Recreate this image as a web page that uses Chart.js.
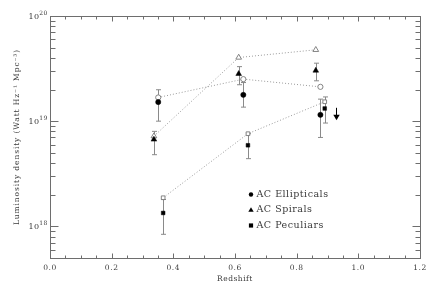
<!DOCTYPE html>
<html>
<head>
<meta charset="utf-8">
<script src="https://cdn.jsdelivr.net/npm/chart.js@4/dist/chart.umd.min.js"></script>
<style>
  html, body { margin: 0; padding: 0; background: #fff; }
  #wrap { width: 436px; height: 291px; }
</style>
</head>
<body>
<div id="wrap"><canvas id="myChart"></canvas></div>
<script>
/*global Chart*/

// AC Ellipticals
var zEll = [0.351, 0.627, 0.877];
var lumEll = [1.52e19, 1.78e19, 1.15e19];
var lumEllLo = [1.0e19, 1.36e19, 7.0e18];
var lumEllHi = [1.99e19, 2.33e19, 1.62e19];

// AC Spirals
var zSpi = [0.337, 0.612, 0.862];
var lumSpi = [6.7e18, 2.82e19, 3.03e19];
var lumSpiLo = [4.8e18, 2.22e19, 2.42e19];
var lumSpiHi = [8.0e18, 3.3e19, 3.56e19];

// AC Peculiars
var zPec = [0.367, 0.642, 0.891];
var lumPec = [1.34e18, 5.9e18, 1.32e19];
var lumPecLo = [8.4e17, 4.4e18, 9.6e18];
var lumPecHi = [1.8e18, 7.6e18, 1.7e19];

// open symbols joined by dotted lines
var lumEllOpen = [1.68e19, 2.51e19, 2.12e19];
var lumSpiOpen = [7.2e18, 4.03e19, 4.77e19];
var lumPecOpen = [1.87e18, 7.6e18, 1.53e19];

// upper limit arrow
var limitZ = [0.927];
var limitLum = [1.34e19];

var legendLabels = ["AC Ellipticals", "AC Spirals", "AC Peculiars"];
var legendStyles = ["circle", "triangle", "rect"];
var xTicks = [0.0, 0.2, 0.4, 0.6, 0.8, 1.0, 1.2];
var yTicks = [1e18, 1e19, 1e20];

function pts(xs, ys){
    return xs.map(function(x, i){ return {x: x, y: ys[i]}; });
}

var serif = "'DejaVu Serif', serif";
var ink = "#3a3a3a";

var openSet = function(xs, ys, style){
    return {
        data: pts(xs, ys),
        showLine: true,
        borderColor: "#9a9a9a",
        borderWidth: 1,
        borderDash: [1, 2],
        pointStyle: style,
        pointRadius: style === "triangle" ? 3.3 : 2.6,
        pointBackgroundColor: "#fff",
        pointBorderColor: "#777",
        pointBorderWidth: 0.9,
        order: 2
    };
};
var filledSet = function(xs, ys, style){
    return {
        data: pts(xs, ys),
        showLine: false,
        pointStyle: style,
        pointRadius: style === "triangle" ? 3.3 : 2.6,
        pointBackgroundColor: "#000",
        pointBorderColor: "#000",
        pointBorderWidth: 0.5,
        order: 1
    };
};

function drawMarker(ctx, style, x, y){
    ctx.fillStyle = "#000";
    ctx.beginPath();
    if (style === "circle"){
        ctx.arc(x, y, 2.2, 0, Math.PI * 2);
    } else if (style === "triangle"){
        ctx.moveTo(x, y - 2.8);
        ctx.lineTo(x + 2.7, y + 1.8);
        ctx.lineTo(x - 2.7, y + 1.8);
        ctx.closePath();
    } else {
        ctx.rect(x - 2.1, y - 2.1, 4.2, 4.2);
    }
    ctx.fill();
}

var decor = {
    id: "decor",
    beforeDatasetsDraw: function(chart){
        var ctx = chart.ctx, xs = chart.scales.x, ys = chart.scales.y;
        ctx.save();
        ctx.strokeStyle = "#8a8a8a";
        ctx.lineWidth = 1;
        var groups = [[zEll, lumEllLo, lumEllHi], [zSpi, lumSpiLo, lumSpiHi], [zPec, lumPecLo, lumPecHi]];
        groups.forEach(function(g){
            g[0].forEach(function(z, i){
                var px = Math.round(xs.getPixelForValue(z)) + 0.5;
                var lo = ys.getPixelForValue(g[1][i]);
                var hi = ys.getPixelForValue(g[2][i]);
                ctx.beginPath();
                ctx.moveTo(px, lo); ctx.lineTo(px, hi);
                ctx.moveTo(px - 2.5, lo); ctx.lineTo(px + 2.5, lo);
                ctx.moveTo(px - 2.5, hi); ctx.lineTo(px + 2.5, hi);
                ctx.stroke();
            });
        });
        // upper limit arrow
        limitZ.forEach(function(z, i){
            var px = Math.round(xs.getPixelForValue(z)) + 0.5;
            var py = ys.getPixelForValue(limitLum[i]);
            ctx.strokeStyle = "#000";
            ctx.beginPath();
            ctx.moveTo(px, py); ctx.lineTo(px, py + 9);
            ctx.stroke();
            ctx.fillStyle = "#000";
            ctx.beginPath();
            ctx.moveTo(px - 3.2, py + 7);
            ctx.lineTo(px + 3.2, py + 7);
            ctx.lineTo(px, py + 12.5);
            ctx.closePath();
            ctx.fill();
        });
        ctx.restore();
    },
    afterDraw: function(chart){
        var ctx = chart.ctx, a = chart.chartArea, xs = chart.scales.x, ys = chart.scales.y;
        ctx.save();
        // frame
        ctx.strokeStyle = "#6e6e6e";
        ctx.lineWidth = 1;
        var L = Math.round(a.left) + 0.5, R = Math.round(a.right) + 0.5;
        var T = Math.round(a.top) + 0.5, B = Math.round(a.bottom) + 0.5;
        ctx.strokeRect(L, T, R - L, B - T);
        ctx.beginPath();
        // x ticks (major and minor), bottom and top, inward
        for (var v = 0; v <= 1.2001; v += 0.05){
            var px = Math.round(xs.getPixelForValue(v)) + 0.5;
            var major = Math.abs(v / 0.2 - Math.round(v / 0.2)) < 1e-6;
            var len = major ? 5 : 3;
            ctx.moveTo(px, B); ctx.lineTo(px, B - len);
            ctx.moveTo(px, T); ctx.lineTo(px, T + len);
        }
        // y ticks, left and right
        for (var e = 17; e <= 19; e++){
            for (var k = 1; k <= 9; k++){
                var val = k * Math.pow(10, e);
                if (val < ys.min * 0.999 || val > ys.max * 1.001) continue;
                var py = Math.round(ys.getPixelForValue(val)) + 0.5;
                var ln = k === 1 ? 8 : 5;
                ctx.moveTo(L, py); ctx.lineTo(L + ln, py);
                ctx.moveTo(R, py); ctx.lineTo(R - ln, py);
            }
        }
        var pTop = Math.round(ys.getPixelForValue(1e20)) + 0.5;
        ctx.moveTo(L, pTop); ctx.lineTo(L + 8, pTop);
        ctx.moveTo(R, pTop); ctx.lineTo(R - 8, pTop);
        ctx.stroke();

        ctx.fillStyle = ink;
        // x tick labels
        ctx.font = "7.5px " + serif;
        ctx.letterSpacing = "0.6px";
        ctx.textAlign = "center";
        ctx.textBaseline = "middle";
        xTicks.forEach(function(t){
            ctx.fillText(t.toFixed(1), xs.getPixelForValue(t), B + 10);
        });
        // y tick labels 10^n
        ctx.letterSpacing = "0.3px";
        yTicks.forEach(function(t){
            var py = ys.getPixelForValue(t);
            var ex = String(Math.round(Math.log10(t)));
            ctx.font = "6px " + serif;
            var w2 = ctx.measureText(ex).width;
            ctx.textAlign = "right";
            ctx.textBaseline = "alphabetic";
            ctx.fillText(ex, L - 3, py - 1);
            ctx.font = "8px " + serif;
            ctx.fillText("10", L - 3 - w2, py + 3);
        });
        // axis titles
        ctx.font = "7.5px " + serif;
        ctx.letterSpacing = "0.5px";
        ctx.textAlign = "center";
        ctx.textBaseline = "middle";
        ctx.fillText("Redshift", (a.left + a.right) / 2, B + 21);
        ctx.save();
        ctx.translate(17, (a.top + a.bottom) / 2);
        ctx.rotate(-Math.PI / 2);
        ctx.letterSpacing = "0.9px";
        ctx.fillText("Luminosity density (Watt Hz\u207B\u00B9 Mpc\u207B\u00B3)", 0, 0);
        ctx.restore();
        // legend
        ctx.font = "9.5px " + serif;
        ctx.letterSpacing = "0.5px";
        ctx.textAlign = "left";
        legendLabels.forEach(function(lab, i){
            var ly = 194.5 + i * 15.5;
            drawMarker(ctx, legendStyles[i], 251, ly);
            ctx.fillStyle = ink;
            ctx.fillText(lab, 256.5, ly);
        });
        ctx.restore();
    }
};

var ctx = document.getElementById("myChart");
var chart = new Chart(ctx, {
    type: "scatter",
    data: {
        datasets: [
            openSet(zEll, lumEllOpen, "circle"),
            openSet(zSpi, lumSpiOpen, "triangle"),
            openSet(zPec, lumPecOpen, "rect"),
            filledSet(zEll, lumEll, "circle"),
            filledSet(zSpi, lumSpi, "triangle"),
            filledSet(zPec, lumPec, "rect")
        ]
    },
    options: {
        responsive: true,
        maintainAspectRatio: false,
        animation: false,
        layout: { padding: { top: 16, right: 16, left: 0, bottom: 0 } },
        plugins: { legend: { display: false }, tooltip: { enabled: false } },
        scales: {
            x: {
                type: "linear", min: 0, max: 1.2,
                grid: { display: false },
                border: { display: false },
                ticks: { display: false },
                afterFit: function(s){ s.height = 33; }
            },
            y: {
                type: "logarithmic", min: 5e17, max: 1e20,
                grid: { display: false },
                border: { display: false },
                ticks: { display: false },
                afterFit: function(s){ s.width = 50; }
            }
        }
    },
    plugins: [decor]
});
</script>
</body>
</html>
